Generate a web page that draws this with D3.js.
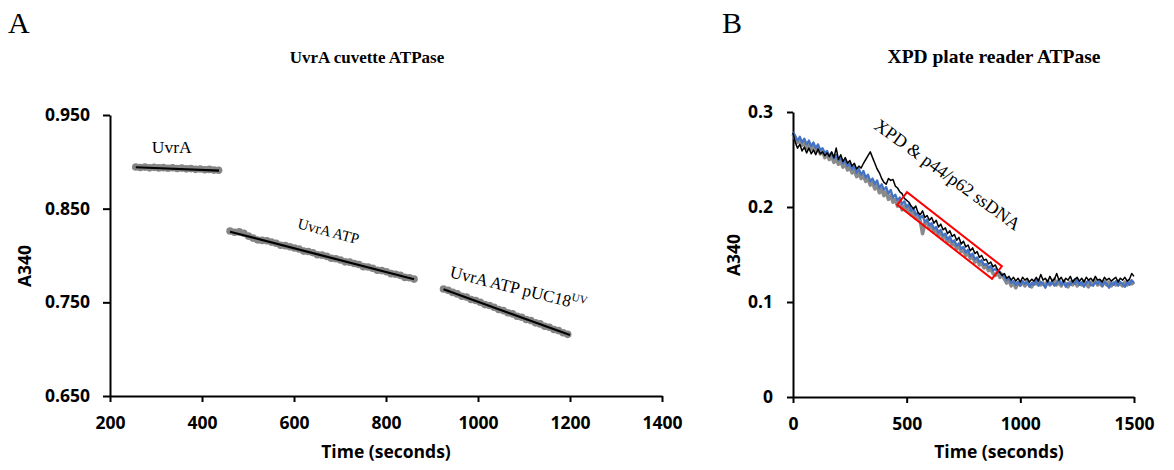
<!DOCTYPE html>
<html>
<head>
<meta charset="utf-8">
<script src="https://cdn.jsdelivr.net/npm/d3@7"></script>
<style>
  body { margin: 0; background: #fff; }
  .tick text { font-family: "Open Sans", sans-serif; font-weight: bold; font-size: 17.5px; }
  .axis-title { font-family: "Open Sans", sans-serif; font-weight: bold; font-size: 17.5px; }
  .serif { font-family: "Liberation Serif", "Times New Roman", serif; }
</style>
</head>
<body>
<div id="chart"></div>
<script>
let width = 1174,
    height = 470;

// ---- panel A: UvrA cuvette ATPase (sampled every 10 s) ----
const timeA1 = d3.range(256, 437, 10);
const uvrA = [0.8945, 0.8940, 0.8944, 0.8936, 0.8941, 0.8935, 0.8938, 0.8932, 0.8937, 0.8929,
              0.8933, 0.8925, 0.8928, 0.8920, 0.8924, 0.8916, 0.8919, 0.8912, 0.8910];

const timeA2 = d3.range(461, 862, 10);
const uvrAATP = [0.8262, 0.8248, 0.8252, 0.8238, 0.8207, 0.8186, 0.8165, 0.8161, 0.8158, 0.8143,
                 0.8130, 0.8109, 0.8105, 0.8094, 0.8080, 0.8070, 0.8047, 0.8042, 0.8030, 0.8008,
                 0.8004, 0.7991, 0.7970, 0.7966, 0.7952, 0.7932, 0.7929, 0.7915, 0.7904, 0.7881,
                 0.7877, 0.7864, 0.7843, 0.7839, 0.7826, 0.7806, 0.7800, 0.7788, 0.7766, 0.7762,
                 0.7748];

const timeA3 = d3.range(925, 1200, 10);
const uvrAATPpUC = [0.7643, 0.7628, 0.7606, 0.7590, 0.7565, 0.7556, 0.7530, 0.7519, 0.7501, 0.7476,
                    0.7466, 0.7447, 0.7423, 0.7412, 0.7388, 0.7377, 0.7352, 0.7341, 0.7316, 0.7305,
                    0.7281, 0.7270, 0.7245, 0.7234, 0.7210, 0.7198, 0.7175, 0.7158];

// linear fits drawn over each segment: [t0, v0, t1, v1]
const fitsA = [
  [256, 0.8942, 437, 0.8906],
  [461, 0.8254, 861, 0.7746],
  [925, 0.7639, 1200, 0.7151]
];
const xTicksA = [200, 400, 600, 800, 1000, 1200, 1400];
const yTicksA = [0.650, 0.750, 0.850, 0.950];

// ---- panel B: XPD plate reader ATPase (sampled every 10 s) ----
const timesB = d3.range(0, 1501, 10);
const grayB = [
  0.277, 0.272, 0.268, 0.271, 0.265, 0.268, 0.262, 0.266, 0.261, 0.264,
  0.258, 0.262, 0.256, 0.259, 0.252, 0.256, 0.250, 0.253, 0.247, 0.251,
  0.245, 0.248, 0.242, 0.246, 0.239, 0.242, 0.236, 0.239, 0.232, 0.236,
  0.230, 0.233, 0.227, 0.230, 0.223, 0.226, 0.219, 0.223, 0.215, 0.219,
  0.212, 0.216, 0.208, 0.212, 0.205, 0.208, 0.201, 0.205, 0.197, 0.201,
  0.196, 0.199, 0.192, 0.195, 0.188, 0.191, 0.185, 0.172, 0.183, 0.184,
  0.178, 0.180, 0.174, 0.176, 0.170, 0.173, 0.167, 0.169, 0.163, 0.166,
  0.160, 0.162, 0.156, 0.159, 0.153, 0.155, 0.149, 0.152, 0.146, 0.148,
  0.142, 0.145, 0.139, 0.141, 0.136, 0.138, 0.133, 0.135, 0.130, 0.128,
  0.131, 0.126, 0.129, 0.124, 0.120, 0.123, 0.117, 0.121, 0.115, 0.120,
  0.118, 0.121, 0.117, 0.122, 0.118, 0.116, 0.121, 0.119, 0.123, 0.118,
  0.120, 0.117, 0.122, 0.118, 0.120, 0.124, 0.118, 0.121, 0.117, 0.122,
  0.119, 0.116, 0.121, 0.118, 0.123, 0.117, 0.120, 0.118, 0.122, 0.119,
  0.116, 0.121, 0.119, 0.123, 0.118, 0.120, 0.117, 0.122, 0.118, 0.121,
  0.117, 0.120, 0.118, 0.122, 0.119, 0.117, 0.121, 0.118, 0.122, 0.119,
  0.121];
const blueB = [
  0.279, 0.275, 0.270, 0.274, 0.268, 0.272, 0.266, 0.270, 0.264, 0.268,
  0.262, 0.266, 0.260, 0.262, 0.257, 0.259, 0.254, 0.257, 0.251, 0.255,
  0.249, 0.252, 0.246, 0.249, 0.243, 0.246, 0.240, 0.243, 0.236, 0.240,
  0.234, 0.238, 0.231, 0.234, 0.227, 0.230, 0.224, 0.228, 0.220, 0.224,
  0.218, 0.221, 0.214, 0.218, 0.210, 0.213, 0.207, 0.210, 0.203, 0.206,
  0.200, 0.203, 0.196, 0.199, 0.192, 0.194, 0.188, 0.191, 0.184, 0.187,
  0.181, 0.183, 0.177, 0.179, 0.173, 0.176, 0.170, 0.172, 0.166, 0.169,
  0.163, 0.165, 0.159, 0.162, 0.156, 0.158, 0.152, 0.155, 0.148, 0.151,
  0.145, 0.147, 0.142, 0.144, 0.139, 0.140, 0.136, 0.138, 0.133, 0.135,
  0.131, 0.132, 0.128, 0.127, 0.123, 0.125, 0.120, 0.122, 0.118, 0.121,
  0.117, 0.122, 0.119, 0.121, 0.116, 0.120, 0.118, 0.123, 0.117, 0.121,
  0.119, 0.115, 0.121, 0.118, 0.122, 0.117, 0.120, 0.124, 0.118, 0.121,
  0.116, 0.120, 0.118, 0.122, 0.119, 0.124, 0.118, 0.121, 0.116, 0.120,
  0.123, 0.118, 0.117, 0.121, 0.119, 0.123, 0.117, 0.121, 0.119, 0.115,
  0.120, 0.118, 0.122, 0.117, 0.121, 0.119, 0.116, 0.121, 0.118, 0.123,
  0.120];
const blackB = [
  0.278, 0.268, 0.262, 0.266, 0.259, 0.263, 0.257, 0.262, 0.256, 0.260,
  0.255, 0.261, 0.256, 0.258, 0.254, 0.257, 0.253, 0.258, 0.252, 0.262,
  0.250, 0.255, 0.248, 0.252, 0.246, 0.249, 0.243, 0.246, 0.240, 0.243,
  0.241, 0.246, 0.250, 0.254, 0.258, 0.252, 0.246, 0.240, 0.236, 0.230,
  0.226, 0.224, 0.230, 0.228, 0.229, 0.222, 0.220, 0.216, 0.214, 0.209,
  0.207, 0.205, 0.201, 0.198, 0.201, 0.194, 0.192, 0.196, 0.189, 0.191,
  0.186, 0.189, 0.183, 0.186, 0.179, 0.182, 0.176, 0.178, 0.172, 0.175,
  0.169, 0.171, 0.165, 0.168, 0.161, 0.164, 0.158, 0.160, 0.154, 0.157,
  0.151, 0.153, 0.147, 0.149, 0.144, 0.145, 0.140, 0.142, 0.137, 0.139,
  0.134, 0.131, 0.128, 0.130, 0.125, 0.127, 0.123, 0.126, 0.122, 0.125,
  0.121, 0.126, 0.123, 0.125, 0.121, 0.124, 0.122, 0.126, 0.122, 0.129,
  0.123, 0.125, 0.121, 0.127, 0.122, 0.124, 0.130, 0.123, 0.126, 0.121,
  0.125, 0.123, 0.127, 0.121, 0.124, 0.126, 0.122, 0.125, 0.121, 0.126,
  0.123, 0.125, 0.122, 0.127, 0.123, 0.124, 0.121, 0.126, 0.123, 0.125,
  0.122, 0.124, 0.126, 0.121, 0.125, 0.123, 0.126, 0.122, 0.124, 0.130,
  0.127];
// highlighted fit window: centre line from [t, A340] to [t, A340]
const boxB = [[480, 0.209], [897, 0.131]];
const xTicksB = [0, 500, 1000, 1500];
const yTicksB = [0, 0.1, 0.2, 0.3];

const svg = d3.select("#chart")
  .append("svg")
  .attr("width", width)
  .attr("height", height);

// ================= panel A =================
let xA = d3.scaleLinear().domain([200, 1400]).range([110, 662]);
let yA = d3.scaleLinear().domain([0.65, 0.95]).range([396, 115]);

svg.append("g")
  .attr("transform", `translate(0,${yA(0.65)})`)
  .call(d3.axisBottom(xA).tickValues(xTicksA).tickFormat(d3.format("d"))
    .tickSize(6).tickSizeOuter(0).tickPadding(15));

svg.append("g")
  .attr("transform", `translate(${xA(200)},0)`)
  .call(d3.axisLeft(yA).tickValues(yTicksA).tickFormat(d3.format(".3f"))
    .tickSize(7).tickSizeOuter(0).tickPadding(13));

let segsA = [
  { t: timeA1, v: uvrA },
  { t: timeA2, v: uvrAATP },
  { t: timeA3, v: uvrAATPpUC }
];

for (let s of segsA) {
  svg.append("g")
    .selectAll("circle")
    .data(s.v)
    .join("circle")
    .attr("cx", (d, i) => xA(s.t[i]))
    .attr("cy", d => yA(d))
    .attr("r", 3.8)
    .attr("fill", "#858585");
}

svg.append("g")
  .selectAll("line")
  .data(fitsA)
  .join("line")
  .attr("x1", d => xA(d[0]))
  .attr("y1", d => yA(d[1]))
  .attr("x2", d => xA(d[2]))
  .attr("y2", d => yA(d[3]))
  .attr("stroke", "#000")
  .attr("stroke-width", 2.2);

svg.append("text").attr("class", "serif")
  .attr("x", 8).attr("y", 33)
  .attr("font-size", 30)
  .text("A");

svg.append("text").attr("class", "serif")
  .attr("x", 367).attr("y", 63)
  .attr("text-anchor", "middle")
  .attr("font-size", 17)
  .attr("font-weight", "bold")
  .text("UvrA cuvette ATPase");

svg.append("text").attr("class", "serif")
  .attr("x", xA(291)).attr("y", yA(0.9094))
  .attr("font-size", 17.5)
  .text("UvrA");

svg.append("text").attr("class", "serif")
  .attr("transform", `translate(${xA(606)},${yA(0.8294)}) rotate(15)`)
  .attr("font-size", 15)
  .text("UvrA ATP");

let lab3 = svg.append("text").attr("class", "serif")
  .attr("transform", `translate(${xA(937)},${yA(0.777)}) rotate(14)`)
  .attr("font-size", 17);
lab3.append("tspan").text("UvrA ATP pUC18");
lab3.append("tspan").attr("dy", -7).attr("font-size", 11).text("UV");

svg.append("text").attr("class", "axis-title")
  .attr("x", 386).attr("y", 458)
  .attr("text-anchor", "middle")
  .text("Time (seconds)");

svg.append("text").attr("class", "axis-title")
  .attr("transform", `translate(31,266) rotate(-90)`)
  .attr("text-anchor", "middle")
  .text("A340");

// ================= panel B =================
let xB = d3.scaleLinear().domain([0, 1500]).range([793, 1134]);
let yB = d3.scaleLinear().domain([0, 0.3]).range([397, 112]);

svg.append("g")
  .attr("transform", `translate(0,${yB(0)})`)
  .call(d3.axisBottom(xB).tickValues(xTicksB).tickFormat(d3.format("d"))
    .tickSize(6).tickSizeOuter(0).tickPadding(15));

svg.append("g")
  .attr("transform", `translate(${xB(0)},0)`)
  .call(d3.axisLeft(yB).tickValues(yTicksB).tickFormat(d => d === 0 ? "0" : d3.format(".1f")(d))
    .tickSize(6).tickSizeOuter(0).tickPadding(14));

let lineB = d3.line()
  .x((d, i) => xB(timesB[i]))
  .y(d => yB(d));

svg.append("path").datum(grayB)
  .attr("fill", "none").attr("stroke", "#8a8a8a").attr("stroke-width", 3.6)
  .attr("stroke-linejoin", "round").attr("d", lineB);
svg.append("path").datum(blueB)
  .attr("fill", "none").attr("stroke", "#4472C4").attr("stroke-width", 2.2)
  .attr("stroke-linejoin", "round").attr("d", lineB);
svg.append("path").datum(blackB)
  .attr("fill", "none").attr("stroke", "#000").attr("stroke-width", 1.5)
  .attr("stroke-linejoin", "round").attr("d", lineB);

// red box around the fitted window
let p0 = [xB(boxB[0][0]), yB(boxB[0][1])],
    p1 = [xB(boxB[1][0]), yB(boxB[1][1])];
let len = Math.hypot(p1[0] - p0[0], p1[1] - p0[1]);
let nx = -(p1[1] - p0[1]) / len * 8,
    ny = (p1[0] - p0[0]) / len * 8;
svg.append("polygon")
  .attr("points", [
    [p0[0] + nx, p0[1] + ny], [p0[0] - nx, p0[1] - ny],
    [p1[0] - nx, p1[1] - ny], [p1[0] + nx, p1[1] + ny]
  ].map(p => p.join(",")).join(" "))
  .attr("fill", "none")
  .attr("stroke", "#ff0000")
  .attr("stroke-width", 2);

svg.append("text").attr("class", "serif")
  .attr("transform", `translate(${xB(352)},${yB(0.2832)}) rotate(36)`)
  .attr("font-size", 18)
  .text("XPD & p44/p62 ssDNA");

svg.append("text").attr("class", "serif")
  .attr("x", 722).attr("y", 33)
  .attr("font-size", 30)
  .text("B");

svg.append("text").attr("class", "serif")
  .attr("x", 994).attr("y", 63)
  .attr("text-anchor", "middle")
  .attr("font-size", 19.5)
  .attr("font-weight", "bold")
  .text("XPD plate reader ATPase");

svg.append("text").attr("class", "axis-title")
  .attr("x", 999).attr("y", 458)
  .attr("text-anchor", "middle")
  .text("Time (seconds)");

svg.append("text").attr("class", "axis-title")
  .attr("transform", `translate(740,255) rotate(-90)`)
  .attr("text-anchor", "middle")
  .text("A340");

svg.selectAll(".domain").attr("stroke-width", 2);
svg.selectAll(".tick line").attr("stroke-width", 2);
</script>
</body>
</html>
